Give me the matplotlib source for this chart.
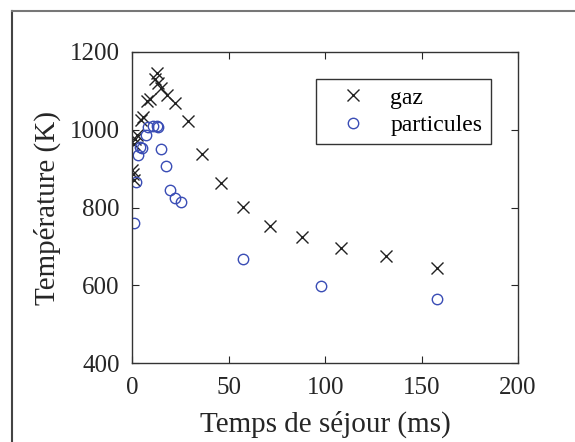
import matplotlib
matplotlib.use("Agg")
import matplotlib.pyplot as plt
from matplotlib.lines import Line2D

# gaz (croix)
gaz_t = [0.0, 0.3, 1.0, 0.8, 1.5, 2.3, 4.4, 5.8, 7.8, 9.3, 11.6, 12.7, 13.5, 15.0,
         18.0, 22.2, 28.9, 36.1, 46.0, 57.4, 71.5, 88.0, 108.0, 131.4, 158.2]
gaz_T = [897, 886, 871, 964, 975, 986, 1024, 1033, 1073, 1078, 1129, 1146, 1119, 1108,
         1090, 1069, 1022, 937, 864, 802, 752, 725, 696, 676, 646]

# particules (cercles)
part_t = [1.1, 1.7, 3.2, 3.9, 5.0, 7.0, 8.4, 10.8, 12.6, 13.4, 15.0, 17.5, 19.4, 22.0,
          25.5, 57.4, 98.1, 158.0]
part_T = [760, 866, 935, 955, 952, 986, 1008, 1010, 1010, 1008, 950, 907, 845, 825,
          815, 667, 599, 565]


def main():
    plt.rcParams['font.family'] = ['Liberation Serif', 'DejaVu Serif']

    fig = plt.figure(figsize=(5.75, 4.42), dpi=100)
    ax = fig.add_axes([0.230, 0.178, 0.671, 0.705])

    ax.plot(gaz_t, gaz_T, 'x', color='#222222', markersize=9, markeredgewidth=1.0,
            label='gaz')
    ax.plot(part_t, part_T, 'o', markerfacecolor='none', markeredgecolor='#3a4db5',
            markersize=7.5, markeredgewidth=1.0, label='particules')

    ax.set_xlim(0, 200)
    ax.set_ylim(400, 1200)
    ax.set_xticks([0, 50, 100, 150, 200])
    ax.set_yticks([400, 600, 800, 1000, 1200])
    ax.tick_params(direction='in', top=True, right=True, length=5, width=0.8,
                   labelsize=18, colors='#262626')
    ax.tick_params(axis='x', pad=10)
    ax.tick_params(axis='y', pad=9)
    for s in ax.spines.values():
        s.set_color('#333333')
        s.set_linewidth(1.0)

    ax.set_xlabel("Temps de séjour (ms)", fontsize=21, color='#262626', labelpad=8)
    ax.set_ylabel("Température (K)", fontsize=21, color='#262626', labelpad=6)

    leg = ax.legend(loc='upper right', bbox_to_anchor=(0.929, 0.913), fontsize=17,
                    fancybox=False, framealpha=1, edgecolor='#333333',
                    handlelength=2.4, handletextpad=0.4, borderpad=0.35,
                    labelspacing=0.25, borderaxespad=0)
    leg.get_frame().set_linewidth(1.0)

    # cadre de la figure (bords gauche et haut)
    fig.add_artist(Line2D([0.020, 0.020], [0.0, 0.976], color='#444444', lw=1.5))
    fig.add_artist(Line2D([0.020, 1.0], [0.976, 0.976], color='#777777', lw=1.5))

    plt.savefig("out.png", dpi=100)


if __name__ == "__main__":
    main()
